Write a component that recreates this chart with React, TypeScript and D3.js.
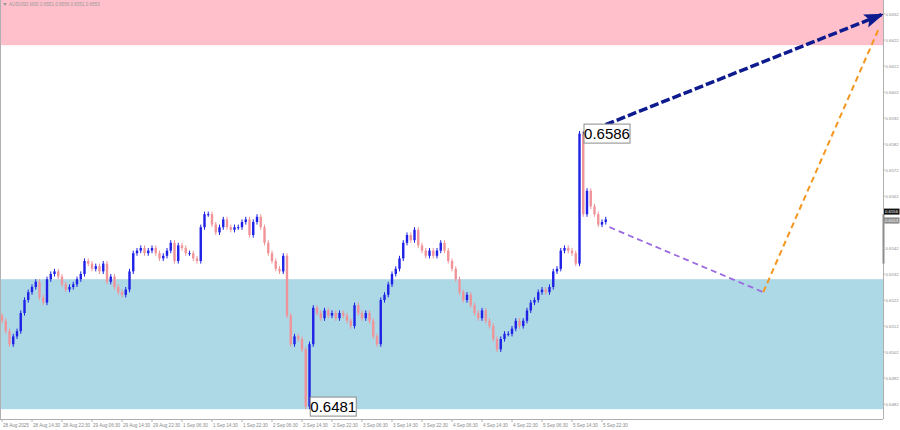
import { useEffect, useRef } from 'react';
import { select, scaleLinear, line, max, min } from 'd3';

// AUDUSD M30, hourly closes (28 Aug 06:30 -> 5 Sep 23:30)
const closes = [
  0.6514, 0.651, 0.6505, 0.6508, 0.651, 0.6517, 0.6522, 0.6525, 0.6527, 0.6529,
  0.6523, 0.6521, 0.653, 0.6532, 0.6533, 0.6531, 0.6528, 0.6526, 0.6527, 0.6528,
  0.653, 0.6532, 0.6537, 0.6536, 0.6534, 0.6535, 0.6533, 0.6536, 0.6529, 0.6531,
  0.6527, 0.6525, 0.6524, 0.6526, 0.6533, 0.654, 0.6541, 0.6542, 0.654, 0.6541,
  0.6542, 0.654, 0.6538, 0.6539, 0.6541, 0.6544, 0.6537, 0.6543, 0.6542, 0.654,
  0.654, 0.6538, 0.6537, 0.655, 0.6555, 0.6555, 0.6551, 0.6548, 0.655, 0.6553,
  0.655, 0.6549, 0.655, 0.655, 0.6552, 0.6553, 0.6547, 0.6552, 0.6554, 0.655,
  0.6544, 0.654, 0.6537, 0.6534, 0.6533, 0.6539, 0.6516, 0.6505, 0.6508, 0.6507,
  0.6503, 0.6481, 0.6505, 0.6519, 0.6517, 0.6515, 0.6518, 0.6516, 0.6517, 0.6515,
  0.6517, 0.6516, 0.6514, 0.6512, 0.652, 0.6517, 0.6515, 0.6517, 0.6514, 0.6508,
  0.6505, 0.6522, 0.6524, 0.6528, 0.6532, 0.6534, 0.6538, 0.6544, 0.6547, 0.6545,
  0.6549, 0.6543, 0.6541, 0.6539, 0.6541, 0.6539, 0.6541, 0.6544, 0.6541, 0.6537,
  0.6534, 0.653, 0.6525, 0.6522, 0.6524, 0.652, 0.6517, 0.6515, 0.6518, 0.6514,
  0.6512, 0.6507, 0.6503, 0.6507, 0.6509, 0.6509, 0.6511, 0.6514, 0.6512, 0.6514,
  0.6518, 0.6521, 0.6522, 0.6525, 0.6526, 0.6525, 0.6527, 0.6533, 0.6534, 0.6541,
  0.6542, 0.6541, 0.654, 0.6536, 0.6586, 0.6555, 0.6564, 0.6558, 0.6555, 0.6551,
  0.6552, 0.6553,
];
const firstOpen = 0.6516;

const timeLabels = [
  '28 Aug 2025', '28 Aug 14:30', '28 Aug 22:30', '29 Aug 06:30', '29 Aug 14:30',
  '29 Aug 22:30', '1 Sep 06:30', '1 Sep 14:30', '1 Sep 22:30', '2 Sep 06:30',
  '2 Sep 14:30', '2 Sep 22:30', '3 Sep 06:30', '3 Sep 14:30', '3 Sep 22:30',
  '4 Sep 06:30', '4 Sep 14:30', '4 Sep 22:30', '5 Sep 06:30', '5 Sep 14:30',
  '5 Sep 22:30',
];
const barsPerLabel = 8;

const priceTicks = [
  0.6632, 0.6622, 0.6612, 0.6602, 0.6592, 0.6582, 0.6572, 0.6562, 0.6552,
  0.6542, 0.6532, 0.6522, 0.6512, 0.6502, 0.6492, 0.6482,
];

const resistanceZone = [0.662, 0.665];
const supportZone = [0.648, 0.653];

// forecast waves: bar index, price
const bigWave = [
  { i: 155, p: 0.6586 },
  { i: 235, p: 0.6632 },
];
const waveB = [
  { i: 162, p: 0.655 },
  { i: 203, p: 0.6525 },
];
const waveC = [
  { i: 203, p: 0.6525 },
  { i: 234, p: 0.6627 },
];

const header = 'AUDUSD,M30  0.6551 0.6556 0.6551 0.6553';
const bidPrice = 0.6556;
const lastPrice = 0.6553;

const W = 900;
const H = 430;
const plot = { left: 0, right: 883, top: 0, bottom: 419 };

const App = () => {
  const svgRef = useRef<SVGSVGElement>(null);

  useEffect(() => {
    if (!svgRef.current) return;
    const svg = select(svgRef.current);
    svg.selectAll('*').remove();

    const x = scaleLinear().domain([0, 160]).range([2, 602]);
    const y = scaleLinear().domain([0.6482, 0.6632]).range([404, 14]);

    const bars = closes.map((c, i) => {
      const o = i === 0 ? firstOpen : closes[i - 1];
      return {
        i,
        o,
        c,
        h: Math.max(o, c) + 0.0001,
        l: Math.min(o, c) - 0.0001,
      };
    });

    const defs = svg.append('defs');
    defs
      .append('clipPath')
      .attr('id', 'plotClip')
      .append('rect')
      .attr('x', plot.left)
      .attr('y', plot.top)
      .attr('width', plot.right - plot.left)
      .attr('height', plot.bottom - plot.top);
    defs
      .append('marker')
      .attr('id', 'navyHead')
      .attr('markerUnits', 'userSpaceOnUse')
      .attr('markerWidth', 22)
      .attr('markerHeight', 16)
      .attr('refX', 19)
      .attr('refY', 7)
      .attr('orient', 'auto')
      .append('path')
      .attr('d', 'M0,0 L20,7 L0,14 L4,7 Z')
      .attr('fill', '#0d1b8e');

    svg.append('rect').attr('width', W).attr('height', H).attr('fill', '#fff');

    const g = svg.append('g').attr('clip-path', 'url(#plotClip)');

    // zones
    g.append('rect')
      .attr('x', plot.left)
      .attr('width', plot.right - plot.left)
      .attr('y', y(resistanceZone[1]))
      .attr('height', y(resistanceZone[0]) - y(resistanceZone[1]))
      .attr('fill', '#ffc0cb');
    g.append('rect')
      .attr('x', plot.left)
      .attr('width', plot.right - plot.left)
      .attr('y', y(supportZone[1]))
      .attr('height', y(supportZone[0]) - y(supportZone[1]))
      .attr('fill', '#add8e6');

    // candles
    const up = '#1e22e6';
    const down = '#f0949a';
    const candle = g
      .selectAll('g.bar')
      .data(bars)
      .join('g')
      .attr('class', 'bar');
    candle
      .append('line')
      .attr('x1', (d) => x(d.i))
      .attr('x2', (d) => x(d.i))
      .attr('y1', (d) => y(d.h))
      .attr('y2', (d) => y(d.l))
      .attr('stroke', (d) => (d.c >= d.o ? up : down))
      .attr('stroke-width', 1);
    candle
      .append('rect')
      .attr('x', (d) => x(d.i) - 1.2)
      .attr('width', 2.4)
      .attr('y', (d) => y(Math.max(d.o, d.c)))
      .attr('height', (d) => Math.max(1, Math.abs(y(d.o) - y(d.c))))
      .attr('fill', (d) => (d.c >= d.o ? up : down));

    // forecast lines
    const path = line<{ i: number; p: number }>()
      .x((d) => x(d.i))
      .y((d) => y(d.p));
    g.append('path')
      .attr('d', path(waveB))
      .attr('fill', 'none')
      .attr('stroke', '#9b6ae0')
      .attr('stroke-width', 1.8)
      .attr('stroke-dasharray', '6,4');
    g.append('path')
      .attr('d', path(waveC))
      .attr('fill', 'none')
      .attr('stroke', '#f5961e')
      .attr('stroke-width', 2)
      .attr('stroke-dasharray', '6,4');
    svg
      .append('path')
      .attr('d', path(bigWave))
      .attr('fill', 'none')
      .attr('stroke', '#0d1b8e')
      .attr('stroke-width', 3.5)
      .attr('stroke-dasharray', '9,3')
      .attr('marker-end', 'url(#navyHead)');

    // extreme labels
    const hiVal = max(closes)!;
    const loVal = min(closes)!;
    const hiIdx = closes.indexOf(hiVal);
    const loIdx = closes.indexOf(loVal);
    const extremes = [
      { i: hiIdx, p: hiVal },
      { i: loIdx, p: loVal },
    ];
    extremes.forEach((e) => {
      const lg = svg
        .append('g')
        .attr('transform', `translate(${x(e.i) + 4.5}, ${y(e.p)})`);
      lg.append('rect')
        .attr('x', 0)
        .attr('y', -9.5)
        .attr('width', 46)
        .attr('height', 19)
        .attr('fill', '#fff')
        .attr('stroke', '#8a8a8a')
        .attr('stroke-width', 1);
      lg.append('text')
        .attr('x', 23)
        .attr('y', 5.5)
        .attr('text-anchor', 'middle')
        .attr('font-family', 'Liberation Sans, Arial, sans-serif')
        .attr('font-size', 15)
        .attr('fill', '#000')
        .text(e.p.toFixed(4));
    });

    // frame
    svg
      .append('line')
      .attr('x1', plot.left + 0.5)
      .attr('x2', plot.left + 0.5)
      .attr('y1', plot.top)
      .attr('y2', plot.bottom)
      .attr('stroke', '#b0b0b0');
    svg
      .append('line')
      .attr('x1', plot.right + 0.5)
      .attr('x2', plot.right + 0.5)
      .attr('y1', plot.top)
      .attr('y2', plot.bottom)
      .attr('stroke', '#b0b0b0');
    svg
      .append('line')
      .attr('x1', plot.left)
      .attr('x2', plot.right)
      .attr('y1', plot.bottom + 0.5)
      .attr('y2', plot.bottom + 0.5)
      .attr('stroke', '#b0b0b0');
    svg
      .append('rect')
      .attr('x', plot.right - 0.5)
      .attr('y', y(0.6555))
      .attr('width', 2)
      .attr('height', y(0.6536) - y(0.6555))
      .attr('fill', '#8c8c8c');

    const font = 'Liberation Sans, Arial, sans-serif';

    // price axis
    const py = svg.append('g');
    priceTicks.forEach((p) => {
      py.append('line')
        .attr('x1', plot.right)
        .attr('x2', plot.right + 2)
        .attr('y1', y(p))
        .attr('y2', y(p))
        .attr('stroke', '#b0b0b0');
      py.append('text')
        .attr('x', plot.right + 2.5)
        .attr('y', y(p) + 1.5)
        .attr('font-family', font)
        .attr('font-size', 4.3)
        .attr('fill', '#8a8a8a')
        .text(p.toFixed(4));
    });
    [
      { p: bidPrice, fill: '#111', color: '#fff' },
      { p: lastPrice, fill: '#8c8c8c', color: '#fff' },
    ].forEach((b, k) => {
      const by = k === 0 ? y(b.p) : y(b.p) + 1;
      py.append('rect')
        .attr('x', plot.right + 1)
        .attr('y', by - 3)
        .attr('width', 15.5)
        .attr('height', 6)
        .attr('fill', b.fill);
      py.append('text')
        .attr('x', plot.right + 2)
        .attr('y', by + 1.5)
        .attr('font-family', font)
        .attr('font-size', 4.3)
        .attr('fill', b.color)
        .text(b.p.toFixed(4));
    });

    // time axis
    const tx = svg.append('g');
    timeLabels.forEach((t, k) => {
      const xx = x(k * barsPerLabel);
      tx.append('line')
        .attr('x1', xx)
        .attr('x2', xx)
        .attr('y1', plot.bottom)
        .attr('y2', plot.bottom + 3)
        .attr('stroke', '#b0b0b0');
      tx.append('text')
        .attr('x', xx + 1)
        .attr('y', plot.bottom + 7.5)
        .attr('font-family', font)
        .attr('font-size', 4.6)
        .attr('fill', '#8a8a8a')
        .text(t);
    });

    // header
    svg
      .append('path')
      .attr('d', 'M3,3 L7,3 L5,6 Z')
      .attr('fill', '#9a9a9a');
    svg
      .append('text')
      .attr('x', 9)
      .attr('y', 6)
      .attr('font-family', font)
      .attr('font-size', 4.6)
      .attr('fill', '#9a9a9a')
      .text(header);
  }, []);

  return (
    <div style={{ position: 'fixed', left: 0, top: 0, width: W, height: H }}>
      <svg ref={svgRef} width={W} height={H} />
    </div>
  );
};

export default App;
